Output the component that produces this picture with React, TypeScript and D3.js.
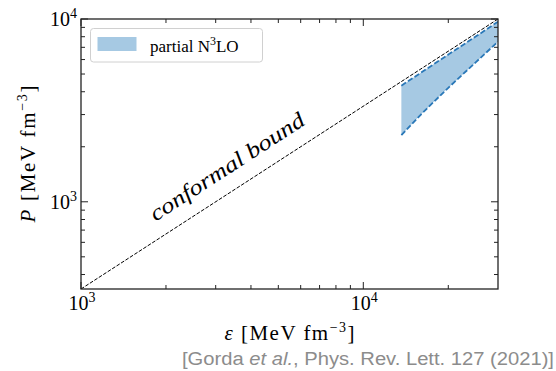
import React from "react";
import * as d3 from "d3";

// ---- data ----
const xDomain = [1000, 30000];
const conformalEps = [1000, 30000];
const bandEps = [13640, 16000, 20000, 25000, 30000];
const bandUpper = [4320, 5085, 6386, 8014, 9670];
const bandLower = [2317, 3000, 4200, 5790, 7520];
const xMajor = [1000, 10000];
const yMajor = [1000, 10000];
const legendLabel = "partial N";
const legendSup = "3";
const legendTail = "LO";
const conformalLabel = "conformal bound";
const conformalLabelEps = 3650;
const footer = "[Gorda ";
const footerItalic = "et al.";
const footerTail = ", Phys. Rev. Lett. 127 (2021)]";

const W = 556, H = 371;
const M = { left: 81, right: 498, top: 19, bottom: 289 };
const SERIF = "Liberation Serif";

export default function App() {
  const x = d3.scaleLog().domain(xDomain).range([M.left, M.right]);
  const y = d3.scaleLog().domain([xDomain[0] / 3, xDomain[1] / 3]).range([M.bottom, M.top]);

  const xMinor: number[] = [];
  for (const dec of [1000, 10000]) for (let k = 2; k <= 9; k++) { const v = dec * k; if (v < xDomain[1]) xMinor.push(v); }
  const yMinor: number[] = [];
  for (const dec of [100, 1000]) for (let k = 2; k <= 9; k++) { const v = dec * k; if (v > xDomain[0] / 3 && v < 10000) yMinor.push(v); }

  const line = d3.line<number>().x((e) => x(e)).y((e) => y(e / 3));
  const bandPts = bandEps.map((e, i) => ({ e, lo: bandLower[i], hi: bandUpper[i] }));
  const area = d3.area<any>().x((d) => x(d.e)).y0((d) => y(d.lo)).y1((d) => y(d.hi)).curve(d3.curveMonotoneX);
  const upLine = d3.line<any>().x((d) => x(d.e)).y((d) => y(d.hi)).curve(d3.curveMonotoneX);
  const loLine = d3.line<any>().x((d) => x(d.e)).y((d) => y(d.lo)).curve(d3.curveMonotoneX);

  const angle = (Math.atan2(M.bottom - M.top, M.right - M.left) * 180) / Math.PI;
  const lx = x(conformalLabelEps), ly = y(conformalLabelEps / 3);

  const MAJ = 7, MIN = 4;
  const axisColor = "#222";
  const blue = "#2a78b8";
  const fill = "#a6c9e3";

  return (
    <div style={{ position: "fixed", left: 0, top: 0 }}>
      <svg width={W} height={H} style={{ display: "block", background: "#fff" }}>
        <defs>
          <clipPath id="plot">
            <rect x={M.left} y={M.top} width={M.right - M.left} height={M.bottom - M.top} />
          </clipPath>
        </defs>
        <g clipPath="url(#plot)">
          <path d={area(bandPts) || ""} fill={fill} stroke="none" />
          <path d={line(conformalEps) || ""} fill="none" stroke="#000" strokeWidth={1} strokeDasharray="3.7,1.6" />
          <path d={upLine(bandPts) || ""} fill="none" stroke={blue} strokeWidth={1.8} strokeDasharray="5.5,2.4" />
          <path d={loLine(bandPts) || ""} fill="none" stroke={blue} strokeWidth={1.8} strokeDasharray="5.5,2.4" />
        </g>

        {/* conformal label */}
        <text
          transform={`translate(${lx},${ly}) rotate(${-angle}) translate(0,-16)`}
          textAnchor="middle"
          fontFamily={SERIF}
          fontStyle="italic"
          fontSize={22}
          textLength={180}
          lengthAdjust="spacingAndGlyphs"
        >
          {conformalLabel}
        </text>

        {/* ticks */}
        <g stroke={axisColor} strokeWidth={1}>
          {xMajor.map((v) => (
            <g key={"xM" + v}>
              <line x1={x(v)} x2={x(v)} y1={M.bottom} y2={M.bottom - MAJ} />
              <line x1={x(v)} x2={x(v)} y1={M.top} y2={M.top + MAJ} />
            </g>
          ))}
          {xMinor.map((v) => (
            <g key={"xm" + v}>
              <line x1={x(v)} x2={x(v)} y1={M.bottom} y2={M.bottom - MIN} />
              <line x1={x(v)} x2={x(v)} y1={M.top} y2={M.top + MIN} />
            </g>
          ))}
          {yMajor.map((v) => (
            <g key={"yM" + v}>
              <line x1={M.left} x2={M.left + MAJ} y1={y(v)} y2={y(v)} />
              <line x1={M.right} x2={M.right - MAJ} y1={y(v)} y2={y(v)} />
            </g>
          ))}
          {yMinor.map((v) => (
            <g key={"ym" + v}>
              <line x1={M.left} x2={M.left + MIN} y1={y(v)} y2={y(v)} />
              <line x1={M.right} x2={M.right - MIN} y1={y(v)} y2={y(v)} />
            </g>
          ))}
        </g>
        <rect x={M.left} y={M.top} width={M.right - M.left} height={M.bottom - M.top} fill="none" stroke={axisColor} strokeWidth={1.3} />

        {/* tick labels */}
        {xMajor.map((v) => (
          <text key={"xl" + v} x={x(v) + 1} y={310} textAnchor="middle" fontFamily={SERIF} fontSize={20}>
            <tspan>10</tspan>
            <tspan dy={-8} fontSize={14}>{Math.round(Math.log10(v))}</tspan>
          </text>
        ))}
        {yMajor.map((v) => (
          <text key={"yl" + v} x={77} y={y(v) + 7} textAnchor="end" fontFamily={SERIF} fontSize={20}>
            <tspan>10</tspan>
            <tspan dy={-8} fontSize={14}>{Math.round(Math.log10(v))}</tspan>
          </text>
        ))}

        {/* axis labels */}
        <text x={(M.left + M.right) / 2} y={340} textAnchor="middle" fontFamily={SERIF} fontSize={21} textLength={130} lengthAdjust="spacing">
          <tspan fontStyle="italic">ε</tspan>
          <tspan> [MeV fm</tspan>
          <tspan dy={-8} fontSize={14}>−3</tspan>
          <tspan dy={8}>]</tspan>
        </text>
        <text transform={`translate(35,${(M.top + M.bottom) / 2}) rotate(-90)`} textAnchor="middle" fontFamily={SERIF} fontSize={21} textLength={137} lengthAdjust="spacing">
          <tspan fontStyle="italic">P</tspan>
          <tspan> [MeV fm</tspan>
          <tspan dy={-8} fontSize={14}>−3</tspan>
          <tspan dy={8}>]</tspan>
        </text>

        {/* legend */}
        <rect x={90.5} y={28.5} width={172} height={33.5} rx={3} fill="#fff" fillOpacity={0.8} stroke="#d0d0d0" strokeWidth={1} />
        <rect x={97.5} y={37} width={39} height={14} fill={fill} />
        <text x={150} y={51.5} fontFamily={SERIF} fontSize={17}>
          <tspan>{legendLabel}</tspan>
          <tspan dy={-7} fontSize={12}>{legendSup}</tspan>
          <tspan dy={7}>{legendTail}</tspan>
        </text>

        {/* footer */}
        <text x={554} y={365} textAnchor="end" fontFamily="Liberation Sans" fontSize={18} fill="#8c8c8c" textLength={372} lengthAdjust="spacingAndGlyphs">
          <tspan>{footer}</tspan>
          <tspan fontStyle="italic">{footerItalic}</tspan>
          <tspan>{footerTail}</tspan>
        </text>
      </svg>
    </div>
  );
}
